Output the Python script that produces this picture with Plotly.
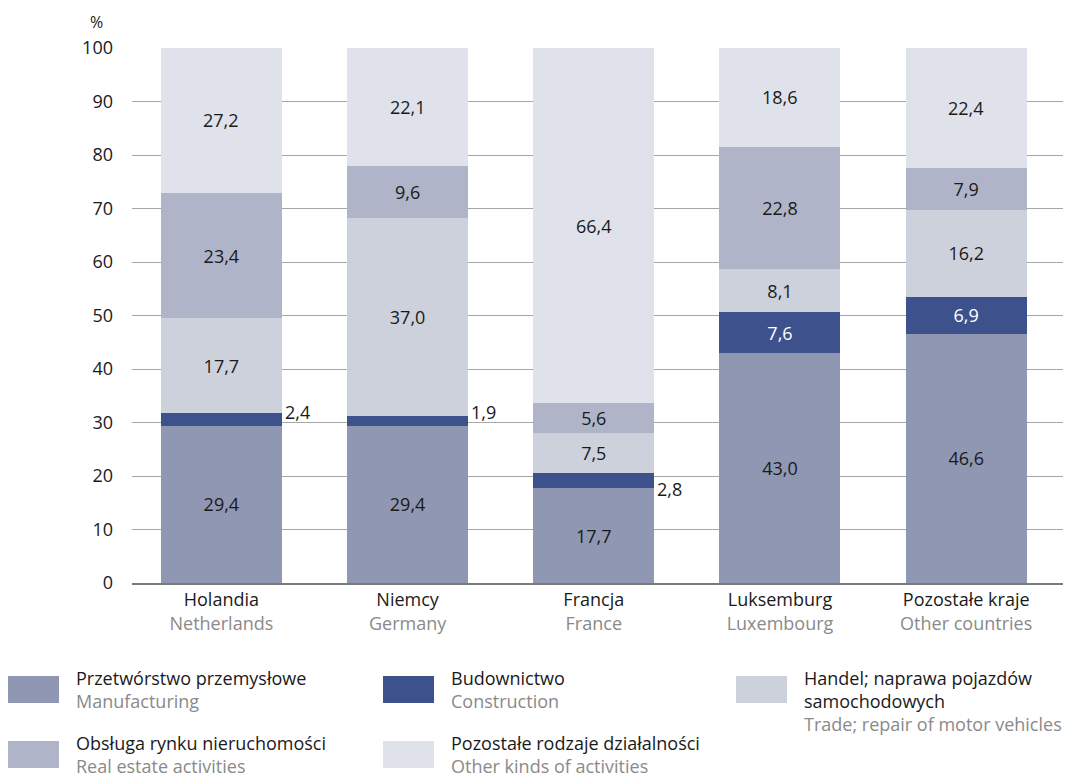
import plotly.graph_objects as go

countries_pl = ["Holandia", "Niemcy", "Francja", "Luksemburg", "Pozostałe kraje"]
countries_en = ["Netherlands", "Germany", "France", "Luxembourg", "Other countries"]

manufacturing = [29.4, 29.4, 17.7, 43.0, 46.6]
construction = [2.4, 1.9, 2.8, 7.6, 6.9]
trade = [17.7, 37.0, 7.5, 8.1, 16.2]
real_estate = [23.4, 9.6, 5.6, 22.8, 7.9]
other = [27.2, 22.1, 66.4, 18.6, 22.4]

series_pl = ["Przetwórstwo przemysłowe", "Budownictwo", "Handel; naprawa pojazdów<br>samochodowych",
             "Obsługa rynku nieruchomości", "Pozostałe rodzaje działalności"]
series_en = ["Manufacturing", "Construction", "Trade; repair of motor vehicles",
             "Real estate activities", "Other kinds of activities"]
colors = ["#8f97b3", "#3d528c", "#cdd1dc", "#afb4c8", "#dfe2ea"]

# vertical nudge (in axis units) of outside construction labels
outside_label_nudge = [1.4, 1.65, -1.5]

FONT = "Open Sans"
FS = 18
OFF = 8  # page body margin
W, H = 1072 - OFF, 777 - OFF
PL, PR, PT, PB = 132, 1063, 48, 583
L, T = PL - OFF, PT - OFF
R, B = W - (PR - OFF), H - (PB - OFF)
PW, PH = PR - PL, PB - PT


def fmt(v):
    return f"{v:.1f}".replace(".", ",")


def px_x(px):
    return (px - PL) / PW


def px_y(py):
    return (PB - py) / PH


xs = list(range(len(countries_pl)))
fig = go.Figure()
all_series = [manufacturing, construction, trade, real_estate, other]
annotations = []
for i, vals in enumerate(all_series):
    if i == 1:
        texts = ["" if v < 5 else fmt(v) for v in vals]
        tcolor = "white"
    elif i == 4:
        texts = ["" for v in vals]
        tcolor = "#1a1a1a"
    else:
        texts = [fmt(v) for v in vals]
        tcolor = "#1a1a1a"
    fig.add_trace(go.Bar(
        x=xs, y=vals, marker=dict(color=colors[i], line=dict(width=0)),
        width=0.65, text=texts, textposition="inside", insidetextanchor="middle",
        textangle=0, textfont=dict(color=tcolor, size=FS, family=FONT),
        showlegend=False, hoverinfo="skip",
    ))

# top-segment labels (segment midpoint, clipped to the 100 axis top)
for k in xs:
    base = sum(s[k] for s in all_series[:4])
    top = min(base + other[k], 100)
    annotations.append(dict(x=k, y=(base + top) / 2, xref="x", yref="y", text=fmt(other[k]),
                            showarrow=False, xanchor="center", yanchor="middle",
                            font=dict(size=FS, color="#1a1a1a", family=FONT)))

j = 0
for k, (m, c) in enumerate(zip(manufacturing, construction)):
    if c < 5:
        annotations.append(dict(x=k + 0.325, y=m + c / 2 + outside_label_nudge[j], xref="x", yref="y",
                                text=fmt(c), showarrow=False, xanchor="left", yanchor="middle",
                                xshift=1, font=dict(size=FS, color="#1a1a1a", family=FONT)))
        j += 1

annotations.append(dict(x=px_x(96), y=px_y(22), xref="paper", yref="paper", text="%",
                        showarrow=False, xanchor="center", yanchor="middle",
                        font=dict(size=16, color="#1a1a1a", family=FONT)))

legend_pos = [(8, 676), (383, 676), (736, 676), (8, 741), (383, 741)]
shapes = []
for i in range(5):
    sx, sy = legend_pos[i]
    shapes.append(dict(type="rect", xref="paper", yref="paper",
                       x0=px_x(sx), x1=px_x(sx + 51), y0=px_y(sy), y1=px_y(sy + 27),
                       fillcolor=colors[i], line=dict(width=0), layer="above"))
    ty = sy + 2
    for line in series_pl[i].split("<br>"):
        annotations.append(dict(x=px_x(sx + 66), y=px_y(ty), xref="paper", yref="paper",
                                text=line, showarrow=False, xanchor="left", yanchor="middle",
                                font=dict(size=FS, color="#1a1a1a", family=FONT)))
        ty += 23
    annotations.append(dict(x=px_x(sx + 66), y=px_y(ty), xref="paper", yref="paper",
                            text=series_en[i], showarrow=False, xanchor="left", yanchor="middle",
                            font=dict(size=FS, color="#8a8a8a", family=FONT)))

ticktext = [f"{p}<br><span style='color:#8a8a8a'>{e}</span>" for p, e in zip(countries_pl, countries_en)]

fig.update_layout(
    width=W, height=H,
    margin=dict(l=L, r=R, t=T, b=B, pad=0),
    paper_bgcolor="white", plot_bgcolor="white",
    barmode="stack",
    font=dict(family=FONT, size=FS, color="#1a1a1a"),
    uniformtext=dict(minsize=FS, mode="show"),
    xaxis=dict(range=[-0.48, 4.52], tickvals=xs, ticktext=ticktext, showgrid=False,
               showline=True, linecolor="#7a7a7a", linewidth=1.5, ticks="", zeroline=False,
               tickfont=dict(size=FS, family=FONT, color="#1a1a1a")),
    yaxis=dict(range=[0, 100], dtick=10, showgrid=True, gridcolor="#a6a6a6", gridwidth=1,
               zeroline=False, showline=False, ticks="", ticklabelstandoff=18,
               tickfont=dict(size=FS, family=FONT, color="#1a1a1a")),
    annotations=annotations, shapes=shapes,
)

fig.write_html("out.html")
